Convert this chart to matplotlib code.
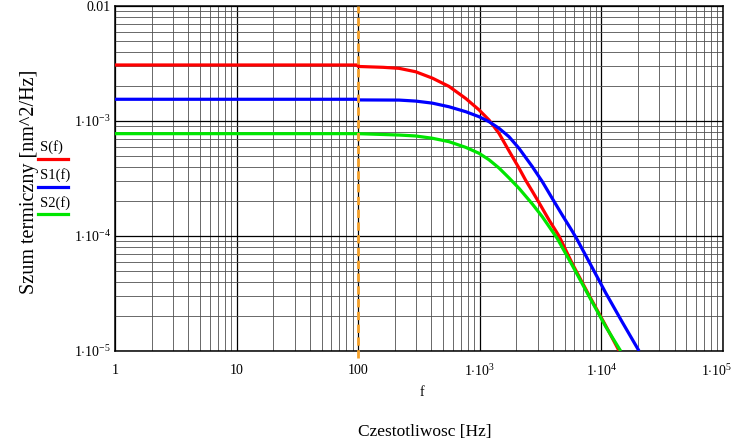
import numpy as np
import matplotlib.pyplot as plt
import matplotlib.transforms as mtransforms
from matplotlib.lines import Line2D
from matplotlib.ticker import FixedLocator, NullFormatter

# czestotliwosc [Hz] i gestosc widmowa szumu termicznego [nm^2/Hz]
f_S = [1, 100, 100, 160, 217, 297, 407, 558, 766, 985, 1191, 1439, 1738,
       2100, 2384, 2702, 3069, 3707, 4480, 5760, 7900, 10850, 14000]
S = [3.07e-3, 3.07e-3, 2.98e-3, 2.93e-3, 2.87e-3, 2.68e-3, 2.36e-3, 2.0e-3,
     1.57e-3, 1.25e-3, 1.02e-3, 7.8e-4, 5.5e-4, 3.9e-4, 3.05e-4, 2.45e-4,
     1.95e-4, 1.38e-4, 1.0e-4, 5.75e-5, 3.06e-5, 1.66e-5, 1.0e-5]

f_S1 = [1, 100, 100, 217, 297, 407, 558, 766, 985, 1191, 1439, 1738, 2100,
        2702, 3266, 3946, 4767, 5764, 6339, 7900, 10850, 14860, 20400]
S1 = [1.545e-3, 1.545e-3, 1.525e-3, 1.52e-3, 1.49e-3, 1.43e-3, 1.33e-3,
      1.205e-3, 1.09e-3, 9.86e-4, 8.64e-4, 7.30e-4, 5.79e-4, 4.01e-4,
      2.97e-4, 2.12e-4, 1.52e-4, 1.10e-4, 9.25e-5, 6.0e-5, 3.2e-5, 1.78e-5,
      1.0e-5]

f_S2 = [1, 100, 217, 297, 407, 558, 766, 985, 1191, 1439, 1738, 2100, 2702,
        3266, 3946, 4338, 5764, 7900, 10850, 14400]
S2 = [7.76e-4, 7.76e-4, 7.55e-4, 7.41e-4, 7.08e-4, 6.61e-4, 5.90e-4,
      5.24e-4, 4.6e-4, 3.9e-4, 3.2e-4, 2.6e-4, 1.9e-4, 1.47e-4, 1.1e-4,
      9.5e-5, 5.55e-5, 3.0e-5, 1.63e-5, 1.0e-5]

f_marker = 100  # pionowa linia przerywana

x_ticks = [1, 10, 100, 1e3, 1e4, 1e5]
x_labels = ['1', '10', '100', r'$1{\cdot}10^{3}$', r'$1{\cdot}10^{4}$',
            r'$1{\cdot}10^{5}$']
y_ticks = [1e-5, 1e-4, 1e-3, 1e-2]
y_labels = [r'$1{\cdot}10^{-5}$', r'$1{\cdot}10^{-4}$', r'$1{\cdot}10^{-3}$',
            '0.01']

series = [('S(f)', f_S, S, '#ff0000'),
          ('S1(f)', f_S1, S1, '#0000ff'),
          ('S2(f)', f_S2, S2, '#00e600')]

plt.rcParams['font.family'] = ['Liberation Serif', 'DejaVu Serif']
plt.rcParams['mathtext.fontset'] = 'custom'
plt.rcParams['mathtext.rm'] = 'Liberation Serif'
plt.rcParams['mathtext.it'] = 'Liberation Serif'
plt.rcParams['mathtext.default'] = 'rm'

W, H = 737, 445
fig = plt.figure(figsize=(W / 100, H / 100), dpi=100)
ax = fig.add_axes([115 / W, 1 - 351 / H, (723 - 115) / W, (351 - 6) / H])
ax.set_xscale('log')
ax.set_yscale('log')
ax.set_xlim(1, 1e5)
ax.set_ylim(1e-5, 1e-2)

# siatka: glowne linie co dekade, pomocnicze 2..9
minor_x = [m * 10 ** d for d in range(0, 5) for m in range(2, 10)]
minor_y = [m * 10.0 ** d for d in range(-5, -2) for m in range(2, 10)]
ax.xaxis.set_minor_locator(FixedLocator(minor_x))
ax.yaxis.set_minor_locator(FixedLocator(minor_y))
ax.xaxis.set_minor_formatter(NullFormatter())
ax.yaxis.set_minor_formatter(NullFormatter())
ax.grid(True, which='minor', color='#505050', lw=0.6)
ax.grid(True, which='major', color='black', lw=0.9)
ax.set_axisbelow(True)

ax.set_xticks(x_ticks)
ax.set_xticklabels(x_labels)
ax.set_yticks(y_ticks)
ax.set_yticklabels(y_labels)
ax.tick_params(which='both', length=0, labelsize=10)
ax.tick_params(axis='x', pad=9)
ax.tick_params(axis='y', pad=3)
for sp in ax.spines.values():
    sp.set_linewidth(1.1)
    sp.set_color('black')

# ostatni podpis osi x przy samej krawedzi - lekko w lewo
last = ax.get_xticklabels()[-1]
last.set_transform(last.get_transform() +
                   mtransforms.ScaledTranslation(-6 / 100, 0, fig.dpi_scale_trans))

for name, fx, sx, col in series:
    ax.plot(fx, sx, color=col, lw=2.3, solid_capstyle='butt', zorder=3)

ax.axvline(f_marker, ymin=-0.02, ymax=1.0, color='#f5a12a', lw=2.0,
           dashes=(3, 1.6), clip_on=False, zorder=4)

# legenda w stylu Mathcada: podpis nad odcinkiem linii
leg_y = [(147, 159), (175, 187), (203, 214)]
for (name, fx, sx, col), (ty, ly) in zip(series, leg_y):
    fig.text(40 / W, 1 - ty / H, name, fontsize=10.5, ha='left', va='center')
    fig.add_artist(Line2D([38 / W, 68 / W], [1 - ly / H, 1 - ly / H],
                          color=col, lw=2.3, transform=fig.transFigure))

fig.text(422 / W, 1 - 393 / H, 'f', fontsize=10, ha='center', va='center')
fig.text(425 / W, 1 - 432 / H, 'Czestotliwosc [Hz]', fontsize=12.5,
         ha='center', va='center')
fig.text(30 / W, 1 - 182 / H, 'Szum termiczny [nm^2/Hz]', fontsize=14.5,
         rotation=90, ha='center', va='center')

fig.savefig('out.png', dpi=100)
